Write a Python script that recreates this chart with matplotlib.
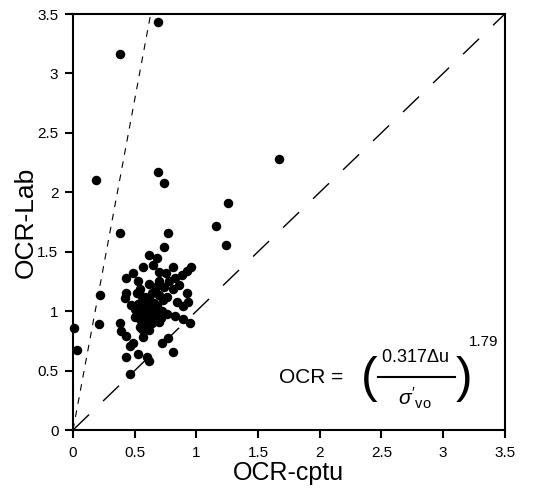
import matplotlib
matplotlib.use("Agg")
import matplotlib.pyplot as plt

plt.rcParams['font.family'] = ['Liberation Sans', 'DejaVu Sans']
plt.rcParams['mathtext.fontset'] = 'custom'
plt.rcParams['mathtext.rm'] = 'Liberation Sans'
plt.rcParams['mathtext.it'] = 'Liberation Sans:italic'

# OCR from CPTu (x) vs OCR from lab (y)
ocr_cptu = [
    0.69, 0.38, 0.19, 0.69, 0.74, 1.26, 1.16, 0.38, 0.77, 1.67, 1.24, 0.74,
    0.01, 0.03,
    0.62, 0.68, 0.57, 0.65, 0.70, 0.81, 0.96, 0.92, 0.49, 0.43, 0.53, 0.62,
    0.83, 0.75, 0.54, 0.81, 0.43, 0.42, 0.92, 0.93, 0.22, 0.56, 0.70, 0.73,
    0.84, 0.50, 0.61, 0.68, 0.89, 0.57, 0.83, 0.76, 0.21, 0.38, 0.54, 0.61,
    0.70, 0.89, 0.95, 0.54, 0.62, 0.39, 0.43, 0.57, 0.77, 0.49, 0.46, 0.72,
    0.53, 0.43, 0.60, 0.62, 0.81, 0.46,
    0.55, 0.58, 0.60, 0.63, 0.57, 0.52, 0.60, 0.65, 0.66, 0.55, 0.58, 0.62,
    0.50, 0.53, 0.64, 0.67, 0.59, 0.56, 0.72, 0.74, 0.78, 0.76, 0.86, 0.88,
    0.70, 0.47, 0.52, 0.59, 0.64, 0.66, 0.61, 0.56, 0.68, 0.71, 0.63, 0.58,
]
ocr_lab = [
    3.43, 3.16, 2.10, 2.17, 2.08, 1.91, 1.72, 1.66, 1.66, 2.28, 1.56, 1.54,
    0.86, 0.67,
    1.47, 1.45, 1.37, 1.39, 1.33, 1.37, 1.37, 1.34, 1.32, 1.28, 1.25, 1.23,
    1.28, 1.32, 1.19, 1.19, 1.15, 1.11, 1.15, 1.08, 1.14, 1.12, 1.14, 1.09,
    1.08, 1.02, 1.05, 1.04, 1.04, 0.97, 0.96, 0.98, 0.89, 0.90, 0.93, 0.91,
    0.91, 0.93, 0.90, 0.87, 0.84, 0.83, 0.79, 0.78, 0.77, 0.73, 0.71, 0.73,
    0.64, 0.61, 0.61, 0.58, 0.66, 0.47,
    1.00, 0.95, 1.00, 0.97, 1.05, 0.98, 0.92, 1.00, 0.95, 0.93, 1.08, 1.10,
    0.95, 1.06, 1.15, 1.20, 0.88, 0.85, 1.00, 1.20, 1.25, 1.12, 1.22, 1.30,
    1.25, 1.05, 1.15, 1.02, 0.90, 1.07, 0.96, 0.90, 0.98, 0.94, 1.03, 1.12,
]

ticks = [0, 0.5, 1, 1.5, 2, 2.5, 3, 3.5]
tick_labels = ['0', '0.5', '1', '1.5', '2', '2.5', '3', '3.5']
upper_slope = 5.56  # steep bounding line through the origin

fig = plt.figure(figsize=(5.33, 5.0), dpi=100)
ax = fig.add_axes([0.137, 0.14, 0.81, 0.832])

ax.plot([0, 3.5], [0, 3.5], color='black', lw=1.0, dashes=(16, 14))
ax.plot([0, 3.5 / upper_slope], [0, 3.5], color='black', lw=0.8, dashes=(6, 6))
ax.scatter(ocr_cptu, ocr_lab, s=34, color='black', zorder=3, clip_on=False)

ax.set_xlim(0, 3.5)
ax.set_ylim(0, 3.5)
ax.set_xticks(ticks)
ax.set_yticks(ticks)
ax.set_xticklabels(tick_labels)
ax.set_yticklabels(tick_labels)
ax.tick_params(direction='out', length=5.5, width=1.5, labelsize=11)
ax.tick_params(axis='x', pad=6)
ax.tick_params(axis='y', pad=5)
for sp in ax.spines.values():
    sp.set_linewidth(1.5)

ax.set_xlabel('OCR-cptu', fontsize=18, labelpad=1)
ax.set_ylabel('OCR-Lab', fontsize=19, labelpad=0)

# formula, OCR = (0.317 du / sigma'vo)^1.79
ax.text(2.19, 0.44, 'OCR =', fontsize=15, ha='right', va='center')
ax.text(2.40, 0.43, '(', fontsize=36, ha='center', va='center')
ax.text(3.17, 0.43, ')', fontsize=36, ha='center', va='center')
ax.text(2.77, 0.54, r'0.317$\Delta$u', fontsize=13, ha='center', va='bottom')
ax.plot([2.47, 3.10], [0.45, 0.45], color='black', lw=1.5)
ax.text(2.77, 0.37, r"$\sigma'_{\mathrm{vo}}$", fontsize=15, ha='center', va='top')
ax.text(3.21, 0.74, '1.79', fontsize=11, ha='left', va='center')

fig.savefig('out.png', dpi=100)
